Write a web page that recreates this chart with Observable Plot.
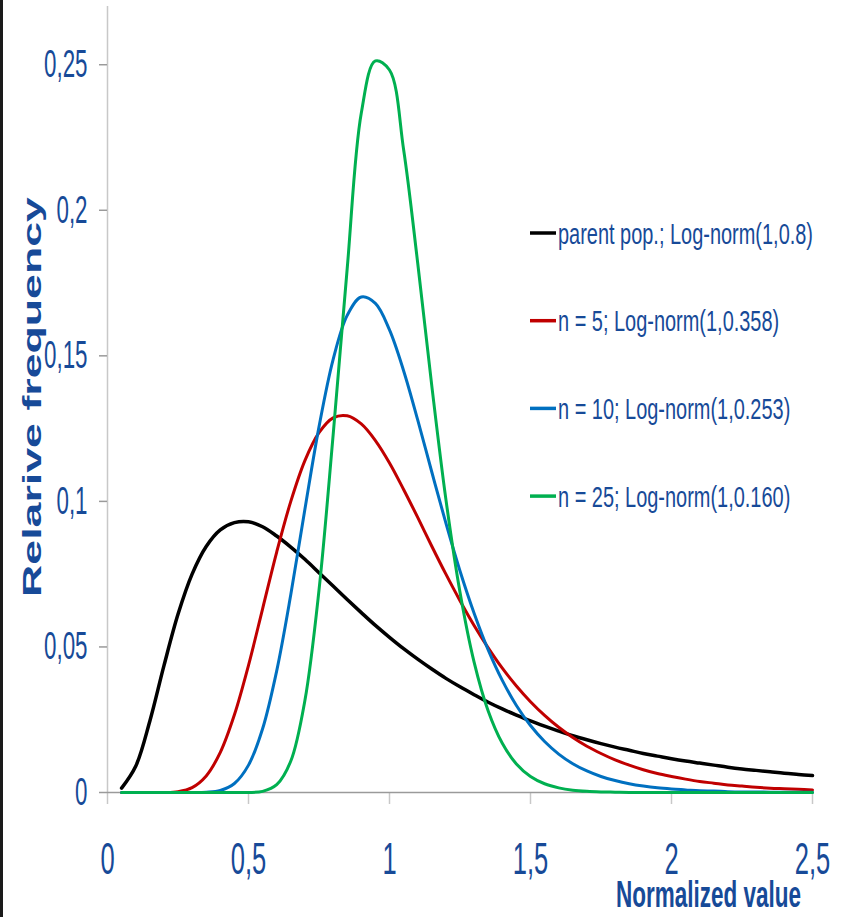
<!DOCTYPE html>
<html><head><meta charset="utf-8">
<script src="https://cdn.jsdelivr.net/npm/d3@7"></script>
<script src="https://cdn.jsdelivr.net/npm/@observablehq/plot@0.6"></script>
<style>
body{margin:0;background:#fff;}
#chart{position:relative;width:842px;height:917px;overflow:hidden;background:#fff}
</style>
</head><body><div id="chart"></div>
<script>
// x positions (Normalized value)
const xs = [0.05,0.10,0.15,0.20,0.25,0.30,0.35,0.40,0.45,0.50,
            0.55,0.60,0.65,0.70,0.75,0.80,0.85,0.90,0.95,1.00,
            1.05,1.10,1.15,1.20,1.25,1.30,1.35,1.40,1.45,1.50,
            1.55,1.60,1.65,1.70,1.75,1.80,1.85,1.90,1.95,2.00,
            2.05,2.10,2.15,2.20,2.25,2.30,2.35,2.40,2.45,2.50];
// Relative frequency, per series
const parentPop = [0.0015,0.0090,0.0245,0.0435,0.0612,0.0750,0.0845,0.0902,0.0927,0.0930,
                   0.0913,0.0881,0.0843,0.0801,0.0755,0.0709,0.0663,0.0618,0.0574,0.0533,
                   0.0494,0.0458,0.0424,0.0392,0.0363,0.0336,0.0310,0.0287,0.0266,0.0246,
                   0.0228,0.0211,0.0195,0.0181,0.0168,0.0156,0.0145,0.0134,0.0125,0.0116,
                   0.0108,0.0101,0.0094,0.0087,0.0081,0.0076,0.0071,0.0066,0.0062,0.0058];
const n5 = [0,0,0,0,0.0003,0.0017,0.0057,0.0138,0.0267,0.0437,
            0.0631,0.0826,0.1000,0.1140,0.1236,0.1287,0.1294,0.1266,0.1209,0.1132,
            0.1041,0.0945,0.0846,0.0750,0.0659,0.0574,0.0497,0.0427,0.0366,0.0312,
            0.0265,0.0224,0.0189,0.0159,0.0134,0.0112,0.0094,0.0078,0.0065,0.0055,
            0.0046,0.0038,0.0032,0.0026,0.0022,0.0018,0.0015,0.0013,0.0011,0.0009];
const n10 = [0,0,0,0,0,0,0.0001,0.0007,0.0031,0.0094,
             0.0219,0.0418,0.0680,0.0973,0.1256,0.1487,0.1639,0.1702,0.1680,0.1589,
             0.1449,0.1280,0.1101,0.0925,0.0761,0.0616,0.0490,0.0385,0.0299,0.0230,
             0.0175,0.0132,0.0099,0.0074,0.0055,0.0041,0.0030,0.0022,0.0016,0.0012,
             0.0009,0.0006,0.0005,0.0003,0.0002,0.0002,0.0001,0.0001,0.0001,0.0001];
const n25 = [0,0,0,0,0,0,0,0,0,0,
             0.0004,0.0027,0.0108,0.0316,0.0695,0.1227,0.1800,0.2334,0.2513,0.2482,
             0.2209,0.1819,0.1397,0.1007,0.0688,0.0448,0.0280,0.0169,0.0098,0.0055,
             0.0030,0.0016,0.0008,0.0004,0.0002,0.0001,0,0,0,0,
             0,0,0,0,0,0,0,0,0,0];

const seriesNames = ["parent pop.; Log-norm(1,0.8)", "n = 5; Log-norm(1,0.358)", "n = 10; Log-norm(1,0.253)", "n = 25; Log-norm(1,0.160)"];
const seriesValues = [parentPop, n5, n10, n25];
const seriesColors = ["#000000", "#c00000", "#0070c0", "#00b050"];
const seriesWidths = [3.5, 3, 3, 3];

const xTicks = [0, 0.5, 1, 1.5, 2, 2.5];
const xTickLabels = ["0", "0,5", "1", "1,5", "2", "2,5"];
const yTicks = [0, 0.05, 0.1, 0.15, 0.2, 0.25];
const yTickLabels = ["0", "0,05", "0,1", "0,15", "0,2", "0,25"];
const xLabel = "Normalized value";
const yLabel = "Relarive frequency";

const textBlue = "#174a98";

const rows = [];
seriesValues.forEach((vals, si) => vals.forEach((v, i) => rows.push({x: xs[i], y: v, s: si})));

const plot = Plot.plot({
  width: 842, height: 917,
  marginTop: 6, marginRight: 30, marginBottom: 125, marginLeft: 107,
  style: {fontFamily: "'Liberation Sans', Arial, sans-serif", background: "#fff", overflow: "visible"},
  x: {domain: [0, 2.5]},
  y: {domain: [0, 0.27]},
  marks: [
    Plot.ruleX([0], {stroke: "#c8c8c8", strokeWidth: 1.5}),
    Plot.axisX({ticks: xTicks, tickFormat: (d) => xTickLabels[xTicks.indexOf(d)], tickSize: 12, tickPadding: 38,
      fontSize: 44, stroke: "#c8c8c8", strokeWidth: 1.5, fill: textBlue, label: null}),
    Plot.axisY({ticks: yTicks, tickFormat: (d) => yTickLabels[yTicks.indexOf(d)], tickSize: 8, tickPadding: 12,
      fontSize: 38.5, stroke: "#9a9a9a", strokeWidth: 1.5, fill: textBlue, label: null}),
    Plot.ruleY([0], {stroke: "#9a9a9a", strokeWidth: 1.5}),
    ...seriesNames.map((name, si) => Plot.line(rows.filter(r => r.s === si), {
      x: "x", y: "y", stroke: seriesColors[si], strokeWidth: seriesWidths[si], curve: "catmull-rom"
    }))
  ]
});

document.getElementById("chart").appendChild(plot);

// horizontally condensed tick labels, as in the reference: wrap each label in a group
// that scales it horizontally around its own anchor point
const NS = "http://www.w3.org/2000/svg";
Array.from(plot.querySelectorAll("text")).forEach(t => {
  const r = t.getBoundingClientRect();
  const cx = (r.left + r.right) / 2;
  const isY = cx < 107;
  const parent = t.parentNode;
  const p = plot.createSVGPoint();
  p.x = isY ? r.right : cx;
  p.y = r.top;
  const q = p.matrixTransform(parent.getScreenCTM().inverse());
  const g = document.createElementNS(NS, "g");
  g.setAttribute("transform", `translate(${q.x},0) scale(0.58,1) translate(${-q.x},0)`);
  parent.insertBefore(g, t);
  g.appendChild(t);
});

const svg = d3.select(plot);
// left frame border
svg.append("line").attr("x1", 1.5).attr("x2", 1.5).attr("y1", 0).attr("y2", 917)
  .attr("stroke", "#1a1a1a").attr("stroke-width", 3);

// axis titles
svg.append("text").attr("transform", "translate(41,397) scale(0.57,1) rotate(-90)")
  .attr("text-anchor", "middle").attr("font-weight", "bold").attr("font-size", 44.7)
  .attr("fill", textBlue).text(yLabel);
svg.append("text").attr("transform", "translate(801,907) scale(0.6,1)")
  .attr("text-anchor", "end").attr("font-weight", "bold").attr("font-size", 37.5)
  .attr("fill", textBlue).text(xLabel);

// legend
const legendTop = 233, legendStep = 87.7;
const lg = svg.append("g");
seriesNames.forEach((name, i) => {
  const y = legendTop + i * legendStep;
  lg.append("line").attr("x1", 530).attr("x2", 556).attr("y1", y).attr("y2", y)
    .attr("stroke", seriesColors[i]).attr("stroke-width", 3.5);
  lg.append("text").attr("transform", `translate(558,${y + 10.7}) scale(0.665,1)`)
    .attr("text-anchor", "start").attr("font-size", 30).attr("fill", textBlue).text(name);
});
</script>
</body></html>
